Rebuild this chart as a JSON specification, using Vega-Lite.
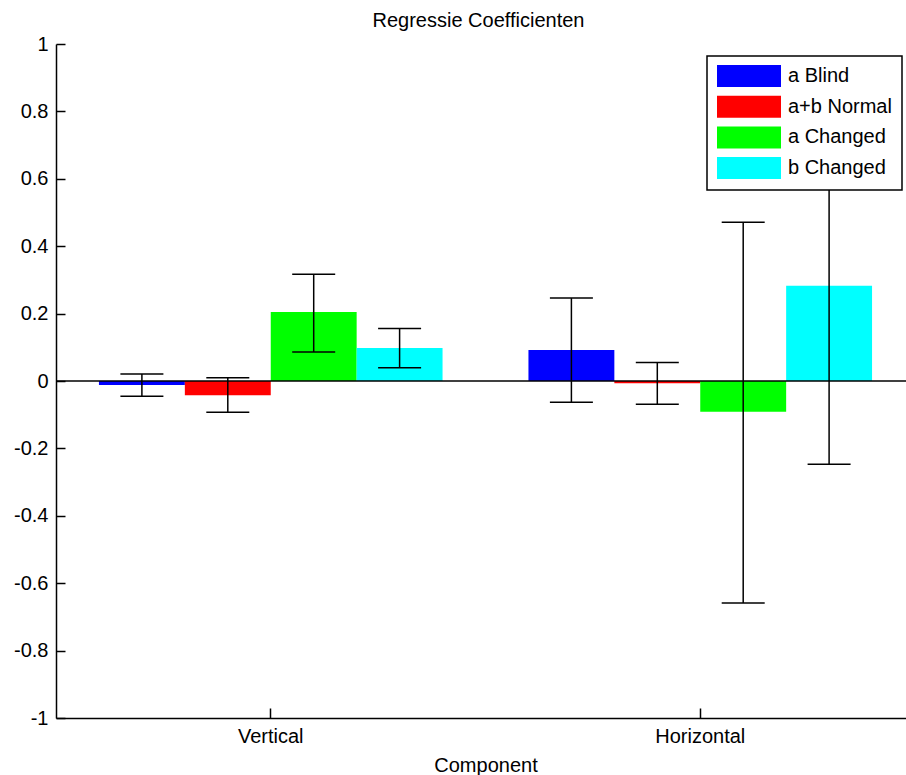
{
  "$schema": "https://vega.github.io/schema/vega-lite/v6.json",
  "autosize": "none",
  "width": 859,
  "height": 674,
  "padding": {"left": 56, "top": 44, "right": 0, "bottom": 57},
  "background": "white",
  "title": {"text": "Regressie Coefficienten", "font": "Liberation Sans", "fontSize": 20, "fontWeight": "normal", "color": "black", "anchor": "middle", "offset": 3, "dx": -7},
  "data": {"values": [
    {"Component": "Vertical", "Series": "a Blind", "value": -0.012, "lo": -0.045, "hi": 0.021},
    {"Component": "Vertical", "Series": "a+b Normal", "value": -0.042, "lo": -0.093, "hi": 0.010},
    {"Component": "Vertical", "Series": "a Changed", "value": 0.205, "lo": 0.086, "hi": 0.317},
    {"Component": "Vertical", "Series": "b Changed", "value": 0.098, "lo": 0.039, "hi": 0.156},
    {"Component": "Horizontal", "Series": "a Blind", "value": 0.092, "lo": -0.063, "hi": 0.246},
    {"Component": "Horizontal", "Series": "a+b Normal", "value": -0.007, "lo": -0.069, "hi": 0.055},
    {"Component": "Horizontal", "Series": "a Changed", "value": -0.091, "lo": -0.659, "hi": 0.471},
    {"Component": "Horizontal", "Series": "b Changed", "value": 0.283, "lo": -0.247, "hi": 0.813}
  ]},
  "layer": [
    {
      "mark": {"type": "bar"},
      "encoding": {
        "x": {"field": "Component", "type": "nominal", "sort": ["Vertical", "Horizontal"], "scale": {"paddingInner": 0, "paddingOuter": 0},
          "axis": {"title": "Component", "titleFont": "Liberation Sans", "titleFontSize": 20, "titleFontWeight": "normal", "titleColor": "black", "titlePadding": 9,
                   "labelAngle": 0, "labelFont": "Liberation Sans", "labelFontSize": 20, "labelColor": "black", "labelPadding": 18,
                   "tickSize": -10, "tickColor": "black", "tickWidth": 1.5, "domainColor": "black", "domainWidth": 1.5, "grid": false}},
        "xOffset": {"field": "Series", "type": "nominal", "sort": ["a Blind", "a+b Normal", "a Changed", "b Changed"], "scale": {"paddingInner": 0, "paddingOuter": 0.5}},
        "y": {"field": "value", "type": "quantitative", "scale": {"domain": [-1, 1], "nice": false, "zero": false},
          "axis": {"title": null, "values": [-1, -0.8, -0.6, -0.4, -0.2, 0, 0.2, 0.4, 0.6, 0.8, 1],
                   "labelExpr": "toString(round(datum.value*10)/10)",
                   "labelFont": "Liberation Sans", "labelFontSize": 20, "labelColor": "black", "labelPadding": 17,
                   "tickSize": -9, "tickColor": "black", "tickWidth": 1.5, "domainColor": "black", "domainWidth": 1.5, "grid": false}},
        "color": {"field": "Series", "type": "nominal", "sort": ["a Blind", "a+b Normal", "a Changed", "b Changed"],
          "scale": {"domain": ["a Blind", "a+b Normal", "a Changed", "b Changed"], "range": ["#0000ff", "#ff0000", "#00ff00", "#00ffff"]},
          "legend": {"orient": "none", "legendX": 651, "legendY": 12, "title": null,
                     "symbolType": "M-3.2,-1.1H3.2V1.1H-3.2Z", "symbolSize": 400, "symbolOffset": 22, "symbolStrokeWidth": 0, "symbolOpacity": 1,
                     "labelOffset": 29, "labelFont": "Liberation Sans", "labelFontSize": 20, "labelColor": "black",
                     "rowPadding": 8.7, "padding": 10, "strokeColor": "black", "fillColor": "white", "cornerRadius": 0}}
      }
    },
    {
      "data": {"values": [{}]},
      "mark": {"type": "rule", "color": "black", "strokeWidth": 1.5},
      "encoding": {"y": {"datum": 0}}
    },
    {
      "mark": {"type": "rule", "color": "black", "strokeWidth": 1.5},
      "encoding": {
        "x": {"field": "Component", "type": "nominal", "sort": ["Vertical", "Horizontal"]},
        "xOffset": {"field": "Series", "type": "nominal", "sort": ["a Blind", "a+b Normal", "a Changed", "b Changed"]},
        "y": {"field": "lo", "type": "quantitative", "title": null},
        "y2": {"field": "hi"}
      }
    },
    {
      "mark": {"type": "tick", "color": "black", "thickness": 1.5, "size": 43, "opacity": 1},
      "encoding": {
        "x": {"field": "Component", "type": "nominal", "sort": ["Vertical", "Horizontal"]},
        "xOffset": {"field": "Series", "type": "nominal", "sort": ["a Blind", "a+b Normal", "a Changed", "b Changed"]},
        "y": {"field": "lo", "type": "quantitative", "title": null}
      }
    },
    {
      "mark": {"type": "tick", "color": "black", "thickness": 1.5, "size": 43, "opacity": 1},
      "encoding": {
        "x": {"field": "Component", "type": "nominal", "sort": ["Vertical", "Horizontal"]},
        "xOffset": {"field": "Series", "type": "nominal", "sort": ["a Blind", "a+b Normal", "a Changed", "b Changed"]},
        "y": {"field": "hi", "type": "quantitative", "title": null}
      }
    }
  ],
  "config": {
    "view": {"stroke": null},
    "legend": {"strokeWidth": 1.5}
  }
}
